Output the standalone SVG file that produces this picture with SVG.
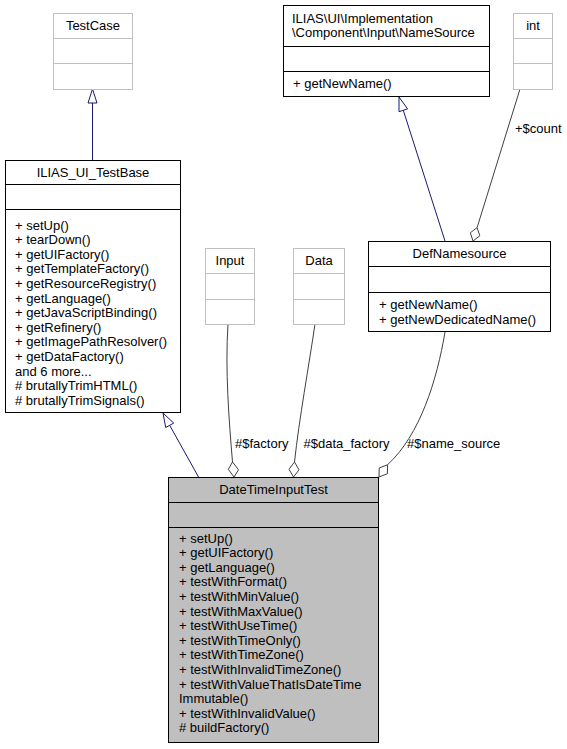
<svg xmlns="http://www.w3.org/2000/svg" width="567" height="749" viewBox="0 0 567 749">
<style>
text{font-family:"Liberation Sans",Arial,Helvetica,sans-serif;font-size:13px;fill:#000}
.c{text-anchor:middle}
.box{fill:#fff;stroke:#000;stroke-width:1}
.gbox{fill:#fff;stroke:#bfbfbf;stroke-width:1}
.hbox{fill:#bfbfbf;stroke:#000;stroke-width:1}
.inh{fill:none;stroke:#191970;stroke-width:1}
.inhh{fill:#fff;stroke:#191970;stroke-width:1}
.agg{fill:none;stroke:#404040;stroke-width:1}
.aggh{fill:#fff;stroke:#404040;stroke-width:1}
</style>
<rect width="567" height="749" fill="#fff"/>
<g id="connectors">
  <path class="inh" d="M92.5,160 L92.5,103"/>
  <polygon class="inhh" points="92.5,89 88,103 97,103"/>
  <path class="inh" d="M198.5,477 L169.7,425.3"/>
  <polygon class="inhh" points="163,413 165.7,427.5 173.7,423.1"/>
  <path class="inh" d="M445,241 L403.3,110.3"/>
  <polygon class="inhh" points="399,97 399,111.7 407.6,108.9"/>
  <path class="agg" d="M520,89 L477.1,227.6"/>
  <polygon class="aggh" points="473,241 479.8,235.8 477.1,227.6 470.3,232.8"/>
  <text x="515" y="132.5">+$count</text>
  <path class="agg" d="M228,324 C225,370 229,420 232.5,462"/>
  <polygon class="aggh" points="234,477 238.5,469.8 232.5,462 228.3,469.3"/>
  <text x="235" y="447.5">#$factory</text>
  <path class="agg" d="M315,324 C309,365 299,420 294.5,462"/>
  <polygon class="aggh" points="293.5,477 299,469.8 294.5,462 289,469.3"/>
  <text x="303.5" y="447.5">#$data_factory</text>
  <path class="agg" d="M445,332 C437,380 420,435 387.6,464.7"/>
  <polygon class="aggh" points="379,477 387.4,473.7 387.6,464.7 379.2,468"/>
  <text x="407" y="447.5">#$name_source</text>
</g>
<g id="TestCase">
  <rect class="gbox" x="53.5" y="13.5" width="79" height="76"/>
  <line class="gbox" x1="53.5" y1="38.5" x2="132.5" y2="38.5"/>
  <line class="gbox" x1="53.5" y1="63.5" x2="132.5" y2="63.5"/>
  <text class="c" x="93" y="30">TestCase</text>
</g>
<g id="NameSource">
  <rect class="box" x="283.5" y="5.5" width="206" height="91"/>
  <line class="box" x1="283.5" y1="46.5" x2="489.5" y2="46.5"/>
  <line class="box" x1="283.5" y1="71.5" x2="489.5" y2="71.5"/>
  <text x="292" y="22.5">ILIAS\UI\Implementation</text>
  <text x="292" y="37">\Component\Input\NameSource</text>
  <text x="293" y="88">+ getNewName()</text>
</g>
<g id="int">
  <rect class="gbox" x="513.5" y="13.5" width="39" height="76"/>
  <line class="gbox" x1="513.5" y1="38.5" x2="552.5" y2="38.5"/>
  <line class="gbox" x1="513.5" y1="63.5" x2="552.5" y2="63.5"/>
  <text class="c" x="533" y="30">int</text>
</g>
<g id="ILIAS_UI_TestBase">
  <rect class="box" x="5.5" y="160.5" width="175" height="252"/>
  <line class="box" x1="5.5" y1="184.5" x2="180.5" y2="184.5"/>
  <line class="box" x1="5.5" y1="209.5" x2="180.5" y2="209.5"/>
  <text class="c" x="93" y="177">ILIAS_UI_TestBase</text>
  <text x="15" y="229.5">+ setUp()</text>
  <text x="15" y="244.1">+ tearDown()</text>
  <text x="15" y="258.7">+ getUIFactory()</text>
  <text x="15" y="273.3">+ getTemplateFactory()</text>
  <text x="15" y="287.9">+ getResourceRegistry()</text>
  <text x="15" y="302.5">+ getLanguage()</text>
  <text x="15" y="317.1">+ getJavaScriptBinding()</text>
  <text x="15" y="331.7">+ getRefinery()</text>
  <text x="15" y="346.3">+ getImagePathResolver()</text>
  <text x="15" y="360.9">+ getDataFactory()</text>
  <text x="15" y="375.5">and 6 more...</text>
  <text x="15" y="390.1"># brutallyTrimHTML()</text>
  <text x="15" y="404.7"># brutallyTrimSignals()</text>
</g>
<g id="Input">
  <rect class="gbox" x="205.5" y="248.5" width="49" height="76"/>
  <line class="gbox" x1="205.5" y1="273.5" x2="254.5" y2="273.5"/>
  <line class="gbox" x1="205.5" y1="299.5" x2="254.5" y2="299.5"/>
  <text class="c" x="230" y="265">Input</text>
</g>
<g id="Data">
  <rect class="gbox" x="293.5" y="248.5" width="51" height="76"/>
  <line class="gbox" x1="293.5" y1="273.5" x2="344.5" y2="273.5"/>
  <line class="gbox" x1="293.5" y1="299.5" x2="344.5" y2="299.5"/>
  <text class="c" x="319" y="265">Data</text>
</g>
<g id="DefNamesource">
  <rect class="box" x="368.5" y="241.5" width="182" height="90"/>
  <line class="box" x1="368.5" y1="266.5" x2="550.5" y2="266.5"/>
  <line class="box" x1="368.5" y1="292.5" x2="550.5" y2="292.5"/>
  <text class="c" x="459.5" y="258">DefNamesource</text>
  <text x="379" y="309">+ getNewName()</text>
  <text x="379" y="323.5">+ getNewDedicatedName()</text>
</g>
<g id="DateTimeInputTest">
  <rect class="hbox" x="168.5" y="477.5" width="210" height="265"/>
  <line class="hbox" x1="168.5" y1="502.5" x2="378.5" y2="502.5"/>
  <line class="hbox" x1="168.5" y1="527.5" x2="378.5" y2="527.5"/>
  <text class="c" x="273.5" y="493.5">DateTimeInputTest</text>
  <text x="179" y="542.5">+ setUp()</text>
  <text x="179" y="557.1">+ getUIFactory()</text>
  <text x="179" y="571.7">+ getLanguage()</text>
  <text x="179" y="586.3">+ testWithFormat()</text>
  <text x="179" y="600.9">+ testWithMinValue()</text>
  <text x="179" y="615.5">+ testWithMaxValue()</text>
  <text x="179" y="630.1">+ testWithUseTime()</text>
  <text x="179" y="644.7">+ testWithTimeOnly()</text>
  <text x="179" y="659.3">+ testWithTimeZone()</text>
  <text x="179" y="673.9">+ testWithInvalidTimeZone()</text>
  <text x="179" y="688.5">+ testWithValueThatIsDateTime</text>
  <text x="179" y="703.1">Immutable()</text>
  <text x="179" y="717.7">+ testWithInvalidValue()</text>
  <text x="179" y="732.3"># buildFactory()</text>
</g>
</svg>
